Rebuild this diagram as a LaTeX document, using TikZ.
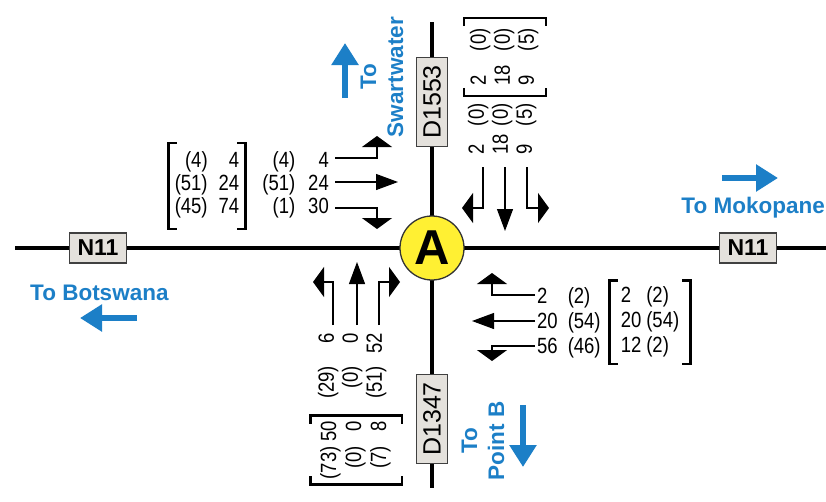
\documentclass[tikz,border=0pt]{standalone}
\usepackage{fontspec}
\setmainfont{Liberation Sans}
\newfontfamily\volfont[FakeStretch=0.84]{Liberation Sans}
\usepackage{tikz}
\usetikzlibrary{arrows.meta,calc}
\definecolor{dirblue}{HTML}{1C7FC7}
\definecolor{signgray}{HTML}{E4E1DC}
\definecolor{jyellow}{HTML}{FFF033}
\tikzset{road/.style={line width=4.5pt},
  sign/.style={draw=black!75,fill=signgray,line width=1.3pt,inner sep=0pt},
  nsign/.style={sign,minimum width=57pt,minimum height=30pt,font=\fontsize{23}{23}\selectfont\bfseries},
  dsign/.style={sign,rotate=90,minimum width=89pt,minimum height=31pt,font=\fontsize{25}{25}\selectfont},
  thru/.style={line width=1.1pt,-{Triangle[length=22pt,width=16pt]}},
  turn/.style={line width=1.1pt,-{Triangle[length=11pt,width=30pt]}},
  dirarrow/.style={dirblue,line width=6pt,-{Triangle[length=22pt,width=26pt]}},
  dirtext/.style={text=dirblue,font=\fontsize{22.5}{27}\selectfont\bfseries,align=center,inner sep=0pt},
  vol/.style={font=\volfont\fontsize{22}{#1}\selectfont,inner sep=0pt},
  vol/.default=24,
  brkt/.style={line width=2.4pt}}
\newcommand{\matbrackets}[2][8pt]{%
  \draw[brkt] ($(#2.north west)!#1!(#2.north east)$) -- (#2.north west)
    -- (#2.south west) -- ($(#2.south west)!#1!(#2.south east)$);
  \draw[brkt] ($(#2.north east)!#1!(#2.north west)$) -- (#2.north east)
    -- (#2.south east) -- ($(#2.south east)!#1!(#2.south west)$);}
\begin{document}
\begin{tikzpicture}[x=1pt,y=-1pt]
  \useasboundingbox (0,0) rectangle (826,501);
  \draw[road] (15,248) -- (826,248);
  \draw[road] (432,22) -- (432,488);
  \node[nsign] (n11w) at (98,248) {N11};
  \node[nsign] (n11e) at (748,248) {N11};
  \node[dsign] (d1553) at (432,102) {D1553};
  \node[dsign] (d1347) at (432,419) {D1347};
  \node[circle,draw=black!80,fill=jyellow,line width=1.3pt,minimum size=64pt,inner sep=0pt,
    font=\fontsize{49}{49}\selectfont\bfseries] (jA) at (432,248) {A};

  \node[dirtext,rotate=90] (swart) at (382,77) {To\\Swartwater};
  \draw[dirarrow] (345,98) -- (345,43);
  \node[dirtext,anchor=base east] (mokop) at (825,213) {To Mokopane};
  \draw[dirarrow] (722,178) -- (778,178);
  \node[dirtext,anchor=base west] (botsw) at (30,300) {To Botswana};
  \draw[dirarrow] (137,318) -- (80,318);
  \node[dirtext,rotate=90] (pointb) at (483,441) {To\\Point B};
  \draw[dirarrow] (523,405) -- (523,467);

  \node[vol=22.5,anchor=east] (wvol) at (329,186)
    {\begin{tabular}{@{}r@{\hspace{13pt}}r@{}}(4)&4\\(51)&24\\(1)&30\end{tabular}};
  \node[vol=22.5,inner xsep=6pt,inner ysep=9pt] (wmat) at (207,186)
    {\begin{tabular}{@{}r@{\hspace{11pt}}r@{}}(4)&4\\(51)&24\\(45)&74\end{tabular}};
  \matbrackets{wmat}
  \draw[turn] (335,158) -| (377,136);
  \draw[thru] (335,182) -- (398,182);
  \draw[turn] (335,208) -| (377,229);

  \node[vol,rotate=90] (nvol) at (503,129)
    {\begin{tabular}{@{}l@{\hspace{8pt}}l@{}}2&(0)\\18&(0)\\9&(5)\end{tabular}};
  \node[vol,rotate=90,inner xsep=10pt,inner ysep=5pt] (nmat) at (505,57)
    {\begin{tabular}{@{}l@{\hspace{14pt}}l@{}}2&(0)\\18&(0)\\9&(5)\end{tabular}};
  \matbrackets{nmat}
  \draw[turn] (483,167) |- (462,208);
  \draw[thru] (505,167) -- (505,231);
  \draw[turn] (527,167) |- (549,208);

  \node[vol=25,anchor=west] (evol) at (537,323)
    {\begin{tabular}{@{}l@{\hspace{10pt}}l@{}}2&(2)\\20&(54)\\56&(46)\end{tabular}};
  \node[vol=25,inner xsep=11pt,inner ysep=4pt] (emat) at (650,322)
    {\begin{tabular}{@{}l@{\hspace{5pt}}l@{}}2&(2)\\20&(54)\\12&(2)\end{tabular}};
  \matbrackets{emat}
  \draw[turn] (535,295) -| (492,273);
  \draw[thru] (535,321) -- (472,321);
  \draw[turn] (535,346) -| (492,361);

  \node[vol,rotate=90] (svol) at (353,366)
    {\begin{tabular}{@{}r@{\hspace{12pt}}r@{}}(29)&6\\(0)&0\\(51)&52\end{tabular}};
  \node[vol=25,rotate=90,inner xsep=5pt,inner ysep=8pt] (smat) at (356,450)
    {\begin{tabular}{@{}r@{\hspace{5pt}}r@{}}(73)&50\\(0)&0\\(7)&8\end{tabular}};
  \matbrackets{smat}
  \draw[turn] (333,325) |- (313,282);
  \draw[thru] (357,325) -- (357,262);
  \draw[turn] (379,325) |- (400,282);
\end{tikzpicture}
\end{document}
